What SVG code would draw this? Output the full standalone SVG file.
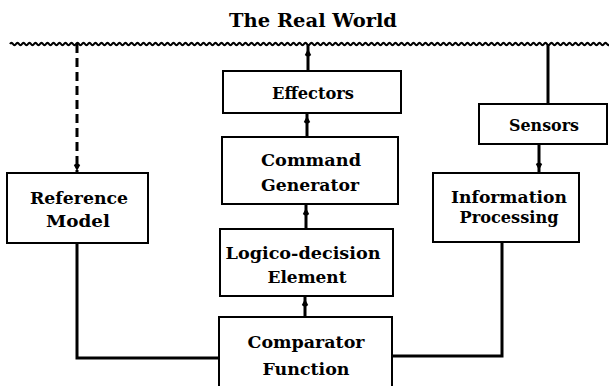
<svg xmlns="http://www.w3.org/2000/svg" xmlns:xlink="http://www.w3.org/1999/xlink" width="609" height="386" viewBox="0 0 609 386">
  <style>
    .box { fill: #fff; stroke: #000; stroke-width: 2; }
    .lbl { font-family: "DejaVu Serif", "Liberation Serif", serif; font-weight: bold; font-size: 17px; fill: #000; text-anchor: middle; }
    .title { font-size: 19px; }
    .wire { fill: none; stroke: #000; stroke-width: 3; }
    .dash { stroke-dasharray: 9 5; }
    .wave { fill: none; stroke: #000; stroke-width: 2.2; }
  </style>
  <defs>
    <!-- small filled arrowhead, tip at origin, pointing up -->
    <path id="ah" d="M0,0 L3.2,6 Q0,9 -3.2,6 Z" fill="#000"/>
  </defs>

  <rect width="609" height="386" fill="#fff"/>

  <g id="world">
    <text class="lbl title" x="313" y="27" textLength="168" lengthAdjust="spacingAndGlyphs">The Real World</text>
    <path class="wave" d="M10,44 q1.5,-2.2 3,0
      t3,0 t3,0 t3,0 t3,0 t3,0 t3,0 t3,0 t3,0 t3,0 t3,0 t3,0 t3,0 t3,0 t3,0 t3,0 t3,0 t3,0 t3,0 t3,0 t3,0
      t3,0 t3,0 t3,0 t3,0 t3,0 t3,0 t3,0 t3,0 t3,0 t3,0 t3,0 t3,0 t3,0 t3,0 t3,0 t3,0 t3,0 t3,0 t3,0 t3,0
      t3,0 t3,0 t3,0 t3,0 t3,0 t3,0 t3,0 t3,0 t3,0 t3,0 t3,0 t3,0 t3,0 t3,0 t3,0 t3,0 t3,0 t3,0 t3,0 t3,0
      t3,0 t3,0 t3,0 t3,0 t3,0 t3,0 t3,0 t3,0 t3,0 t3,0 t3,0 t3,0 t3,0 t3,0 t3,0 t3,0 t3,0 t3,0 t3,0 t3,0
      t3,0 t3,0 t3,0 t3,0 t3,0 t3,0 t3,0 t3,0 t3,0 t3,0 t3,0 t3,0 t3,0 t3,0 t3,0 t3,0 t3,0 t3,0 t3,0 t3,0
      t3,0 t3,0 t3,0 t3,0 t3,0 t3,0 t3,0 t3,0 t3,0 t3,0 t3,0 t3,0 t3,0 t3,0 t3,0 t3,0 t3,0 t3,0 t3,0 t3,0
      t3,0 t3,0 t3,0 t3,0 t3,0 t3,0 t3,0 t3,0 t3,0 t3,0 t3,0 t3,0 t3,0 t3,0 t3,0 t3,0 t3,0 t3,0 t3,0 t3,0
      t3,0 t3,0 t3,0 t3,0 t3,0 t3,0 t3,0 t3,0 t3,0 t3,0 t3,0 t3,0 t3,0 t3,0 t3,0 t3,0 t3,0 t3,0 t3,0 t3,0
      t3,0 t3,0 t3,0 t3,0 t3,0 t3,0 t3,0 t3,0 t3,0 t3,0 t3,0 t3,0 t3,0 t3,0 t3,0 t3,0 t3,0 t3,0 t3,0 t3,0
      t3,0 t3,0 t3,0 t3,0 t3,0 t3,0 t3,0 t3,0 t3,0 t3,0 t3,0 t3,0 t3,0 t3,0 t3,0 t3,0 t3,0 t3,0 t3,0 t3,0"/>
  </g>

  <g id="connectors">
    <!-- effectors up to the world -->
    <path class="wire" d="M308,44 V71"/>
    <use xlink:href="#ah" href="#ah" transform="translate(308,49)"/>
    <!-- command generator to effectors -->
    <path class="wire" d="M307,113 V137"/>
    <use xlink:href="#ah" href="#ah" transform="translate(307,116)"/>
    <!-- logico-decision element to command generator -->
    <path class="wire" d="M306,204 V229"/>
    <use xlink:href="#ah" href="#ah" transform="translate(306,208)"/>
    <!-- comparator to logico-decision element -->
    <path class="wire" d="M305,296 V317"/>
    <use xlink:href="#ah" href="#ah" transform="translate(305,299)"/>
    <!-- world down to reference model (dashed) -->
    <path class="wire dash" d="M77,44 V173"/>
    <use xlink:href="#ah" href="#ah" transform="translate(77,171) rotate(180)"/>
    <!-- world to sensors -->
    <path class="wire" d="M548,44 V104"/>
    <!-- sensors to information processing -->
    <path class="wire" d="M539,144 V173"/>
    <use xlink:href="#ah" href="#ah" transform="translate(539,170) rotate(180)"/>
    <!-- reference model to comparator -->
    <path class="wire" d="M77,243 V358 H219"/>
    <!-- information processing to comparator -->
    <path class="wire" d="M502,242 V356 H392"/>
  </g>

  <g id="effectors">
    <rect class="box" x="223" y="71" width="178" height="42"/>
    <text class="lbl" x="313" y="99" textLength="82" lengthAdjust="spacingAndGlyphs">Effectors</text>
  </g>

  <g id="command-generator">
    <rect class="box" x="222" y="137" width="176" height="67"/>
    <text class="lbl" x="311" y="166" textLength="100" lengthAdjust="spacingAndGlyphs">Command</text>
    <text class="lbl" x="310" y="191" textLength="98" lengthAdjust="spacingAndGlyphs">Generator</text>
  </g>

  <g id="logico-decision">
    <rect class="box" x="220" y="229" width="173" height="67"/>
    <text class="lbl" x="303" y="259" textLength="155" lengthAdjust="spacingAndGlyphs">Logico-decision</text>
    <text class="lbl" x="307" y="283" textLength="79" lengthAdjust="spacingAndGlyphs">Element</text>
  </g>

  <g id="comparator">
    <rect class="box" x="219" y="317" width="173" height="80"/>
    <text class="lbl" x="306" y="348" textLength="117" lengthAdjust="spacingAndGlyphs">Comparator</text>
    <text class="lbl" x="306" y="375" textLength="87" lengthAdjust="spacingAndGlyphs">Function</text>
  </g>

  <g id="reference-model">
    <rect class="box" x="7" y="173" width="141" height="70"/>
    <text class="lbl" x="79" y="204" textLength="98" lengthAdjust="spacingAndGlyphs">Reference</text>
    <text class="lbl" x="78" y="227" textLength="64" lengthAdjust="spacingAndGlyphs">Model</text>
  </g>

  <g id="sensors">
    <rect class="box" x="479" y="104" width="128" height="40"/>
    <text class="lbl" x="544" y="131" textLength="70" lengthAdjust="spacingAndGlyphs">Sensors</text>
  </g>

  <g id="information-processing">
    <rect class="box" x="433" y="173" width="146" height="69"/>
    <text class="lbl" x="509" y="203" textLength="116" lengthAdjust="spacingAndGlyphs">Information</text>
    <text class="lbl" x="509" y="223" textLength="99" lengthAdjust="spacingAndGlyphs">Processing</text>
  </g>
</svg>
